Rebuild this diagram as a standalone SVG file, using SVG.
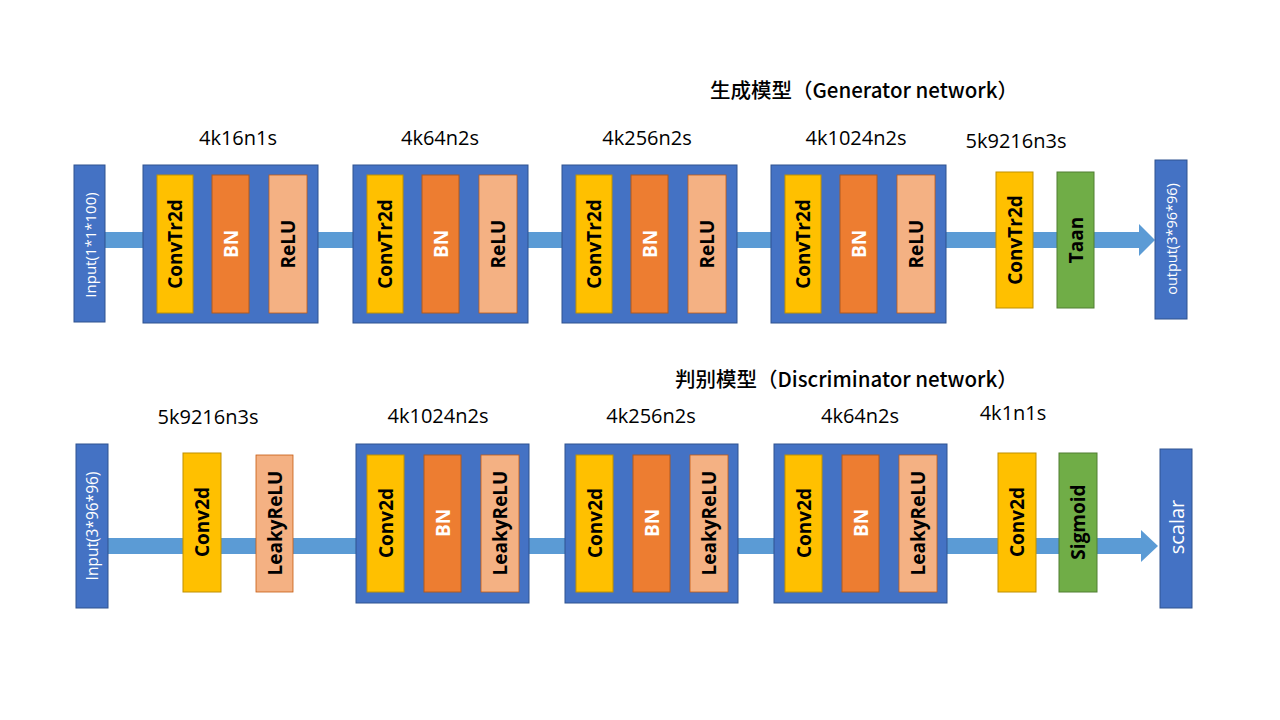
<svg xmlns="http://www.w3.org/2000/svg" width="1280" height="720" viewBox="0 0 1280 720">
<style>
.io{fill:#4472C4;stroke:#2F528F;stroke-width:1}
.blk{fill:#4472C4;stroke:#2F528F;stroke-width:1}
.y{fill:#FFC000;stroke:#BF9000;stroke-width:1}
.o{fill:#ED7D31;stroke:#AE5A21;stroke-width:1}
.s{fill:#F4B183;stroke:#C55A11;stroke-width:0.8}
.g{fill:#70AD47;stroke:#507E32;stroke-width:1}
.band{fill:#5B9BD5}
.t{font-family:"Open Sans","Noto Sans",sans-serif;font-weight:bold;font-size:19px;fill:#000;text-anchor:middle;dominant-baseline:central}
.tw{font-family:"Open Sans","Noto Sans",sans-serif;font-weight:bold;font-size:19px;fill:#fff;text-anchor:middle;dominant-baseline:central}
.iot{font-family:"Open Sans","Noto Sans",sans-serif;font-size:15px;fill:#fff;text-anchor:middle;dominant-baseline:central}
.lab{font-family:"Open Sans","Noto Sans",sans-serif;font-size:20px;fill:#000;text-anchor:middle}
.title{font-family:"Noto Sans CJK SC","Noto Sans",sans-serif;font-weight:500;font-size:20.5px;fill:#000}
</style>
<rect width="1280" height="720" fill="#fff"/>
<g id="connectors">
<rect class="band" x="105" y="232" width="1035" height="16"/>
<polygon class="band" points="1139,224 1155,240 1139,256"/>
<rect class="band" x="108" y="538" width="1034" height="16"/>
<polygon class="band" points="1141,530 1158,546 1141,562"/>
</g>
<text class="title" x="710" y="98">生成模型（Generator network）</text>
<text class="title" x="675" y="387">判别模型（Discriminator network）</text>
<g id="g-input"><rect class="io" x="74" y="165" width="31" height="157"/><text class="iot" transform="translate(90,245) rotate(-90)">Input(1*1*100)</text></g>
<g id="g-b1"><rect class="blk" x="143" y="165" width="175" height="158"/>
<rect class="y" x="157" y="175" width="36" height="138"/><text class="t" transform="translate(175,244) rotate(-90)">ConvTr2d</text>
<rect class="o" x="212" y="175" width="37" height="138"/><text class="tw" transform="translate(230.5,244) rotate(-90)">BN</text>
<rect class="s" x="269" y="175" width="38" height="138"/><text class="t" transform="translate(288,244) rotate(-90)">ReLU</text></g>
<g id="g-b2"><rect class="blk" x="353" y="165" width="175" height="158"/>
<rect class="y" x="367" y="175" width="36" height="138"/><text class="t" transform="translate(385,244) rotate(-90)">ConvTr2d</text>
<rect class="o" x="422" y="175" width="37" height="138"/><text class="tw" transform="translate(440.5,244) rotate(-90)">BN</text>
<rect class="s" x="479" y="175" width="38" height="138"/><text class="t" transform="translate(498,244) rotate(-90)">ReLU</text></g>
<g id="g-b3"><rect class="blk" x="562" y="165" width="175" height="158"/>
<rect class="y" x="576" y="175" width="36" height="138"/><text class="t" transform="translate(594,244) rotate(-90)">ConvTr2d</text>
<rect class="o" x="631" y="175" width="37" height="138"/><text class="tw" transform="translate(649.5,244) rotate(-90)">BN</text>
<rect class="s" x="688" y="175" width="38" height="138"/><text class="t" transform="translate(707,244) rotate(-90)">ReLU</text></g>
<g id="g-b4"><rect class="blk" x="771" y="165" width="175" height="158"/>
<rect class="y" x="785" y="175" width="36" height="138"/><text class="t" transform="translate(803,244) rotate(-90)">ConvTr2d</text>
<rect class="o" x="840" y="175" width="37" height="138"/><text class="tw" transform="translate(858.5,244) rotate(-90)">BN</text>
<rect class="s" x="897" y="175" width="38" height="138"/><text class="t" transform="translate(916,244) rotate(-90)">ReLU</text></g>
<g id="g-conv5"><rect class="y" x="996" y="172" width="37" height="136"/><text class="t" transform="translate(1014.5,240) rotate(-90)">ConvTr2d</text></g>
<g id="g-taan"><rect class="g" x="1057" y="172" width="37" height="136"/><text class="t" transform="translate(1075.5,240) rotate(-90)">Taan</text></g>
<g id="g-output"><rect class="io" x="1155" y="160" width="32" height="159"/><text class="iot" style="font-size:14.5px" transform="translate(1171,239) rotate(-90)">output(3*96*96)</text></g>
<g id="g-labels">
<text class="lab" x="238" y="145">4k16n1s</text>
<text class="lab" x="440" y="145">4k64n2s</text>
<text class="lab" x="647" y="145">4k256n2s</text>
<text class="lab" x="856" y="145">4k1024n2s</text>
<text class="lab" x="1016" y="148">5k9216n3s</text>
<text class="lab" x="208" y="424">5k9216n3s</text>
<text class="lab" x="438" y="423">4k1024n2s</text>
<text class="lab" x="651" y="423">4k256n2s</text>
<text class="lab" x="860" y="423">4k64n2s</text>
<text class="lab" x="1013" y="420">4k1n1s</text>
</g>
<g id="d-input"><rect class="io" x="76" y="444" width="32" height="164"/><text class="iot" style="font-size:15.5px" transform="translate(92,526) rotate(-90)">Input(3*96*96)</text></g>
<g id="d-conv1"><rect class="y" x="183" y="453" width="38" height="139"/><text class="t" transform="translate(202,522) rotate(-90)">Conv2d</text></g>
<g id="d-lrelu1"><rect class="s" x="256" y="455" width="37" height="137"/><text class="t" transform="translate(274.5,523) rotate(-90)">LeakyReLU</text></g>
<g id="d-b1"><rect class="blk" x="356" y="444" width="173" height="159"/>
<rect class="y" x="367" y="455" width="37" height="137"/><text class="t" transform="translate(385.5,523) rotate(-90)">Conv2d</text>
<rect class="o" x="424" y="455" width="37" height="137"/><text class="tw" transform="translate(442.5,523) rotate(-90)">BN</text>
<rect class="s" x="481" y="455" width="38" height="137"/><text class="t" transform="translate(500,523) rotate(-90)">LeakyReLU</text></g>
<g id="d-b2"><rect class="blk" x="565" y="444" width="173" height="159"/>
<rect class="y" x="576" y="455" width="37" height="137"/><text class="t" transform="translate(594.5,523) rotate(-90)">Conv2d</text>
<rect class="o" x="633" y="455" width="37" height="137"/><text class="tw" transform="translate(651.5,523) rotate(-90)">BN</text>
<rect class="s" x="690" y="455" width="38" height="137"/><text class="t" transform="translate(709,523) rotate(-90)">LeakyReLU</text></g>
<g id="d-b3"><rect class="blk" x="774" y="444" width="173" height="159"/>
<rect class="y" x="785" y="455" width="37" height="137"/><text class="t" transform="translate(803.5,523) rotate(-90)">Conv2d</text>
<rect class="o" x="842" y="455" width="37" height="137"/><text class="tw" transform="translate(860.5,523) rotate(-90)">BN</text>
<rect class="s" x="899" y="455" width="38" height="137"/><text class="t" transform="translate(918,523) rotate(-90)">LeakyReLU</text></g>
<g id="d-conv5"><rect class="y" x="998" y="453" width="38" height="139"/><text class="t" transform="translate(1017,522) rotate(-90)">Conv2d</text></g>
<g id="d-sigmoid"><rect class="g" x="1059" y="453" width="38" height="139"/><text class="t" transform="translate(1078,522) rotate(-90)">Sigmoid</text></g>
<g id="d-scalar"><rect class="io" x="1160" y="449" width="32" height="159"/><text class="iot" style="font-size:20px" transform="translate(1176,527) rotate(-90)">scalar</text></g>
</svg>
